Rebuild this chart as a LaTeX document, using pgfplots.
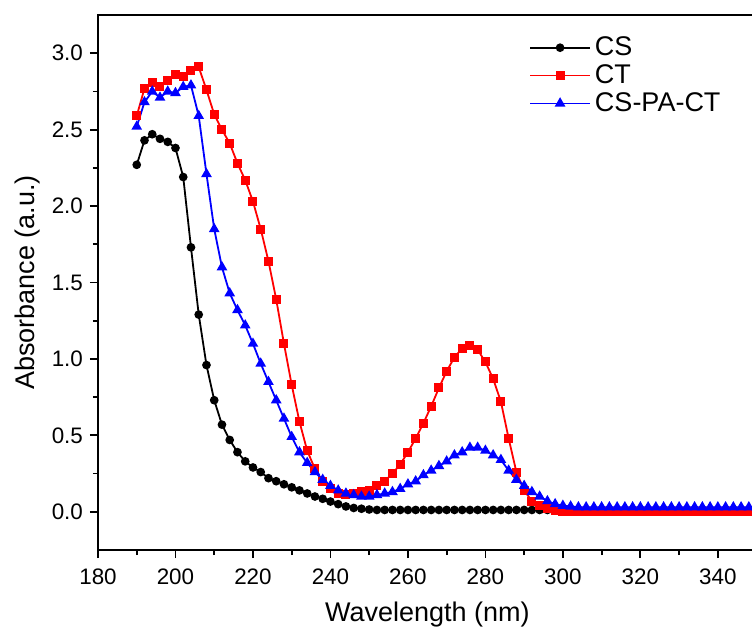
\documentclass[border=0pt]{standalone}
\usepackage{fontspec}
\setmainfont{Liberation Sans}
\usepackage{pgfplots}
\usepackage{pgfplotstable}
\pgfplotsset{compat=1.18}
\pgfplotstableread{
x cs ct cpc
190 2.27 2.59 2.52
192 2.43 2.77 2.68
194 2.47 2.81 2.75
196 2.44 2.78 2.71
198 2.42 2.82 2.75
200 2.38 2.86 2.74
202 2.19 2.85 2.78
204 1.73 2.89 2.79
206 1.29 2.91 2.59
208 0.96 2.76 2.21
210 0.73 2.60 1.85
212 0.57 2.50 1.60
214 0.47 2.41 1.43
216 0.39 2.28 1.32
218 0.33 2.17 1.22
220 0.29 2.03 1.10
222 0.26 1.85 0.97
224 0.22 1.64 0.85
226 0.20 1.39 0.73
228 0.18 1.10 0.61
230 0.16 0.83 0.49
232 0.14 0.59 0.39
234 0.12 0.40 0.32
236 0.10 0.28 0.26
238 0.085 0.20 0.21
240 0.067 0.15 0.17
242 0.05 0.12 0.14
244 0.035 0.11 0.12
246 0.025 0.12 0.11
248 0.02 0.13 0.10
250 0.015 0.14 0.10
252 0.012 0.17 0.11
254 0.012 0.20 0.12
256 0.012 0.25 0.13
258 0.012 0.31 0.15
260 0.012 0.39 0.18
262 0.012 0.48 0.20
264 0.012 0.58 0.24
266 0.012 0.69 0.27
268 0.012 0.81 0.30
270 0.012 0.92 0.33
272 0.012 1.01 0.37
274 0.012 1.07 0.39
276 0.012 1.09 0.42
278 0.012 1.06 0.42
280 0.012 0.98 0.40
282 0.012 0.87 0.37
284 0.012 0.72 0.34
286 0.012 0.48 0.27
288 0.012 0.26 0.21
290 0.012 0.14 0.17
292 0.012 0.07 0.13
294 0.012 0.04 0.10
296 0.012 0.02 0.07
298 0.012 0.01 0.05
300 0.012 0.005 0.04
302 0.012 0.005 0.035
304 0.012 0.005 0.03
306 0.012 0.005 0.03
308 0.012 0.005 0.03
310 0.012 0.005 0.03
312 0.012 0.005 0.03
314 0.012 0.005 0.03
316 0.012 0.005 0.03
318 0.012 0.005 0.03
320 0.012 0.005 0.03
322 0.012 0.005 0.03
324 0.012 0.005 0.03
326 0.012 0.005 0.03
328 0.012 0.005 0.03
330 0.012 0.005 0.03
332 0.012 0.005 0.03
334 0.012 0.005 0.03
336 0.012 0.005 0.03
338 0.012 0.005 0.03
340 0.012 0.005 0.03
342 0.012 0.005 0.03
344 0.012 0.005 0.03
346 0.012 0.005 0.03
348 0.012 0.005 0.03
350 0.012 0.005 0.03
}\datatable
\begin{document}
\begin{tikzpicture}
\useasboundingbox (0,0) rectangle (376pt,314.5pt);
\begin{axis}[
  at={(49pt,39.5pt)}, anchor=south west,
  scale only axis,
  width=329.3pt, height=267.5pt,
  xmin=180, xmax=350,
  ymin=-0.25, ymax=3.25,
  xtick={180,200,...,340},
  ytick={0,0.5,...,3.0},
  minor x tick num=1,
  minor y tick num=1,
  xtick pos=bottom, ytick pos=left,
  tick align=outside,
  major tick length=4pt,
  minor tick length=2.5pt,
  every tick/.style={black, line width=0.9pt},
  axis line style={line width=1.1pt},
  /pgf/number format/assume math mode=true,
  yticklabel style={/pgf/number format/.cd, fixed, fixed zerofill, precision=1},
  xticklabel style={yshift=-2pt, /pgf/number format/.cd, fixed, precision=0, 1000 sep={}},
  tick label style={font=\fontsize{11.2}{13}\selectfont},
  label style={font=\fontsize{13.5}{16}\selectfont},
  xlabel={Wavelength (nm)},
  ylabel={Absorbance (a.u.)},
  xlabel style={yshift=-1.5pt},
  ylabel style={yshift=-1pt},
  legend style={draw=none, fill=none, at={(0.645,0.975)}, anchor=north west,
    font=\fontsize{13.5}{16}\selectfont, row sep=-1pt},
  legend cell align=left,
  legend image code/.code={\draw[mark repeat=2,mark phase=2] plot coordinates {(0pt,0pt) (15pt,0pt) (30pt,0pt)};},
  clip mode=global,
]
\addplot[black, line width=0.9pt, mark=*, mark size=1.7pt] table[x=x, y=cs] {\datatable};
\addlegendentry{CS}
\addplot[red, line width=0.9pt, mark=square*, mark size=1.8pt] table[x=x, y=ct] {\datatable};
\addlegendentry{CT}
\addplot[blue, line width=0.9pt, mark=triangle*, mark size=2.2pt] table[x=x, y=cpc] {\datatable};
\addlegendentry{CS-PA-CT}
\end{axis}
\end{tikzpicture}
\end{document}
